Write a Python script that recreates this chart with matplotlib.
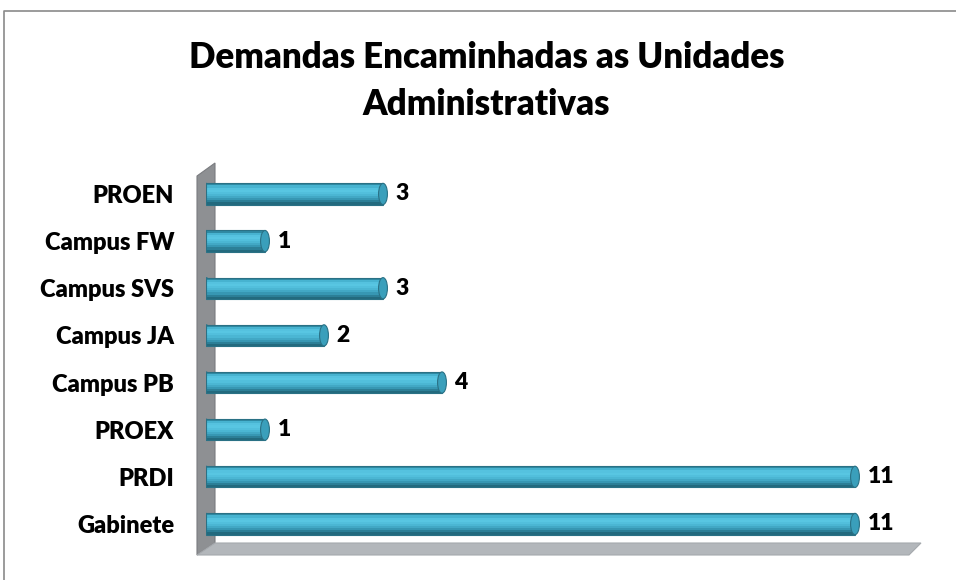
import matplotlib.pyplot as plt
from matplotlib.patches import Ellipse, Polygon
import numpy as np

categories = ['Gabinete', 'PRDI', 'PROEX', 'Campus PB', 'Campus JA',
              'Campus SVS', 'Campus FW', 'PROEN']
values = [11, 11, 1, 4, 2, 3, 1, 3]
title = 'Demandas Encaminhadas as Unidades\nAdministrativas'

plt.rcParams['font.family'] = ['Lato', 'DejaVu Sans']

W, H = 956, 580
fig = plt.figure(figsize=(W / 100, H / 100), dpi=100)

# background layer in pixel coords: frame, wall, floor
bg = fig.add_axes([0, 0, 1, 1])
bg.set_xlim(0, W)
bg.set_ylim(H, 0)
bg.axis('off')
bg.plot([4, 4, W], [H, 11, 11], color='#8a8a8a', lw=1.2)
bg.add_patch(Polygon([(197, 176), (215, 163), (215, 543), (197, 555)],
                     closed=True, fc='#8e9093', ec='#7a7c80', lw=0.8))
bg.add_patch(Polygon([(197, 555), (215, 543), (921, 543), (909, 555)],
                     closed=True, fc='#b3b7bb', ec='#a5a9ad', lw=0.8))

fig.text(0.509, 1 - 81 / H, title, ha='center', va='center',
         fontsize=25, fontweight='heavy', linespacing=1.52)

ax = fig.add_axes([206 / W, 0.0478, 708 / W, 0.6666])
ax.patch.set_alpha(0)
ax.set_xlim(0, 12)
ax.set_ylim(-0.6, 7.6)
for s in ax.spines.values():
    s.set_visible(False)
ax.set_xticks([])
y = np.arange(len(categories))
ax.set_yticks(y)
ax.set_yticklabels(categories, fontsize=17, fontweight='heavy')
ax.tick_params(axis='y', length=0, pad=23)

bh = 0.45
capw = 0.15
# cylinder shading: stripes from top to bottom
shades = ['#2f8aa3', '#47b3d0', '#55c2df', '#58c6e2', '#52bfdc',
          '#4bb6d3', '#42a8c5', '#3797b3', '#2c7f97', '#236a7e']
n = len(shades)

# left caps (behind)
for yi in y:
    ax.add_patch(Ellipse((0, yi), capw, bh, fc='#3da4c0', ec='#2a7488',
                         lw=0.8, zorder=1))
for k, c in enumerate(shades):
    yc = y + bh / 2 - (k + 0.5) * bh / n
    ax.barh(yc, values, height=bh / n, color=c, lw=0, zorder=2)
ax.barh(y, values, height=bh, fill=False, ec='#2a7185', lw=0.8, zorder=3)
for yi, v in zip(y, values):
    ax.add_patch(Ellipse((v, yi), capw, bh, fc='#3a9fbb', ec='#2a7185',
                         lw=0.8, zorder=4))
    ax.annotate(str(v), (v, yi), xytext=(9, 0), textcoords='offset points',
                ha='left', va='center', fontsize=16.5, fontweight='heavy')

fig.savefig('out.png', dpi=100)
